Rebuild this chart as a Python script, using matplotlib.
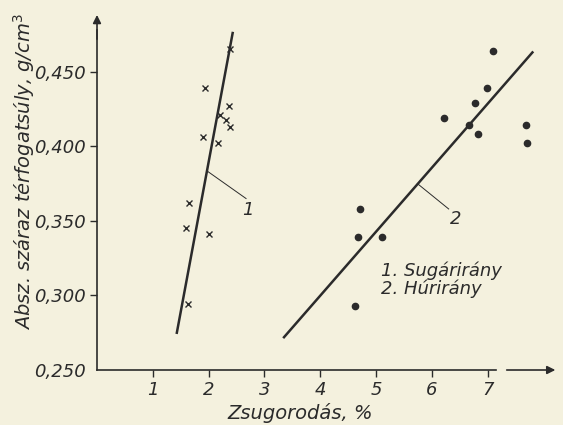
import matplotlib
matplotlib.use("Agg")
import matplotlib.pyplot as plt

# Sugárirány (radial) measurements
x_sugar = [1.93, 2.36, 2.20, 2.31, 2.38, 1.90, 2.16, 2.38, 1.65, 1.59, 2.00, 1.63]
y_sugar = [0.439, 0.427, 0.421, 0.418, 0.413, 0.406, 0.402, 0.465, 0.362, 0.345, 0.341, 0.294]

# Húrirány (tangential) measurements
x_hur = [7.10, 6.98, 6.78, 6.21, 6.66, 6.82, 7.69, 7.71, 4.72, 4.67, 5.11, 4.62]
y_hur = [0.464, 0.439, 0.429, 0.419, 0.414, 0.408, 0.414, 0.402, 0.358, 0.339, 0.339, 0.293]

# fitted lines, end points
fit1_x = [1.43, 2.43]
fit1_y = [0.275, 0.476]
fit2_x = [3.35, 7.80]
fit2_y = [0.272, 0.463]

x_ticks = [1, 2, 3, 4, 5, 6, 7]
y_ticks = [0.25, 0.30, 0.35, 0.40, 0.45]
y_tick_labels = ["0,250", "0,300", "0,350", "0,400", "0,450"]

ink = "#2b2b2b"
paper = "#f4f1de"
font = dict(family="DejaVu Sans", style="oblique")

fig = plt.figure(figsize=(5.63, 4.25), dpi=100, facecolor=paper)
ax = fig.add_axes([0.1723, 0.1294, 0.819, 0.842], facecolor=paper)
ax.set_xlim(0, 8.26)
ax.set_ylim(0.25, 0.490)

# scatter points
ax.plot(x_sugar, y_sugar, linestyle="none", marker="x", markersize=4.5,
        markeredgewidth=1.0, color=ink)
ax.plot(x_hur, y_hur, linestyle="none", marker="o", markersize=4.5, color=ink)

# regression lines
ax.plot(fit1_x, fit1_y, color=ink, lw=1.8)
ax.plot(fit2_x, fit2_y, color=ink, lw=1.8)

# leader lines with curve numbers
ax.plot([1.99, 2.67], [0.383, 0.365], color=ink, lw=0.7)
ax.text(2.70, 0.357, "1", ha="center", va="center", fontsize=13, color=ink, **font)
ax.plot([5.74, 6.30], [0.375, 0.358], color=ink, lw=0.7)
ax.text(6.42, 0.351, "2", ha="center", va="center", fontsize=13, color=ink, **font)

# legend as plain text
ax.text(5.08, 0.3105, "1. Sugárirány\n2. Húrirány", ha="left", va="center",
        fontsize=13, linespacing=0.98, color=ink, **font)

# axes drawn as arrows
for side in ["top", "right"]:
    ax.spines[side].set_visible(False)
ax.spines["left"].set_bounds(0.25, 0.478)
ax.spines["bottom"].set_bounds(0, 7.14)
for side in ["left", "bottom"]:
    ax.spines[side].set_color(ink)
    ax.spines[side].set_linewidth(1.2)
ax.annotate("", xy=(0, 0.490), xytext=(0, 0.470),
            arrowprops=dict(arrowstyle="-|>", color=ink, lw=1.2, mutation_scale=12),
            annotation_clip=False)
ax.annotate("", xy=(8.26, 0.25), xytext=(7.29, 0.25),
            arrowprops=dict(arrowstyle="-|>", color=ink, lw=1.2, mutation_scale=12),
            annotation_clip=False)

ax.set_xticks(x_ticks)
ax.set_xticklabels([str(t) for t in x_ticks], fontsize=13, color=ink, **font)
ax.set_yticks(y_ticks)
ax.set_yticklabels(y_tick_labels, fontsize=13, color=ink, **font)
ax.tick_params(axis="both", direction="out", length=5, width=1.0, color=ink, pad=3)
ax.yaxis.get_major_ticks()[0].tick1line.set_visible(False)

ax.set_xlabel("Zsugorodás, %", fontsize=14, color=ink, va="center", **font)
ax.xaxis.set_label_coords(0.44, -0.12)
ax.set_ylabel("Absz. száraz térfogatsúly, g/cm$^3$", fontsize=14, color=ink,
              va="center", **font)
ax.yaxis.set_label_coords(-0.158, 0.556)

fig.savefig("out.png", dpi=100, facecolor=paper)
